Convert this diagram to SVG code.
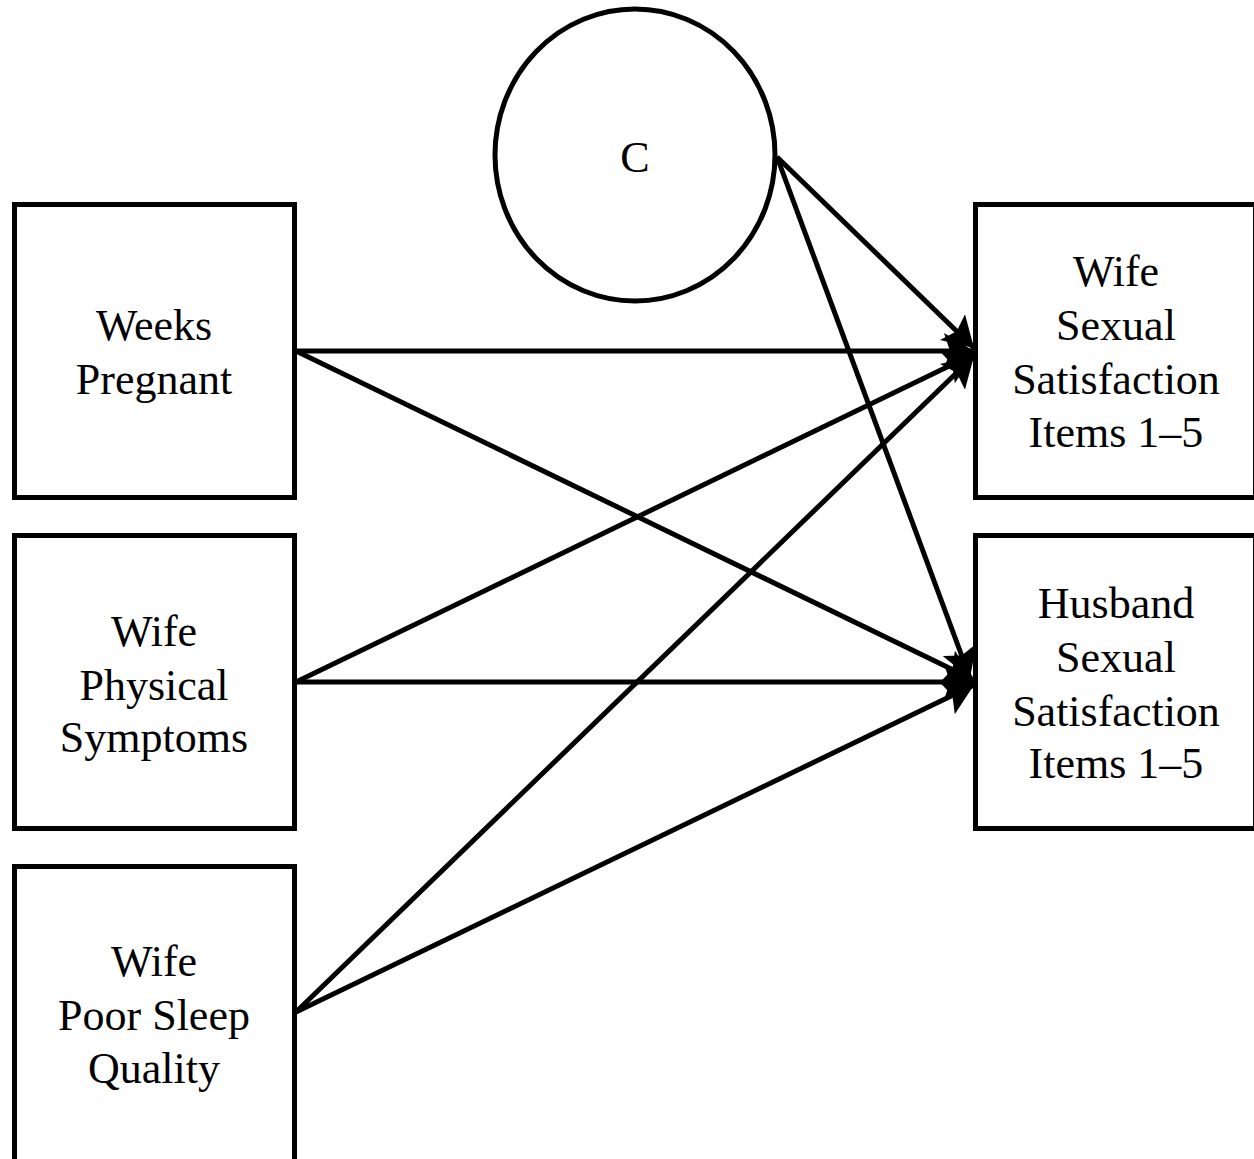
<svg xmlns="http://www.w3.org/2000/svg" width="1254" height="1159" viewBox="0 0 1254 1159">
<style>
.box{fill:#fff;stroke:#000;stroke-width:5}
.lbl{font-family:"Liberation Serif","Times New Roman",serif;font-size:44px;fill:#000;text-anchor:middle}
.edge{stroke:#000;stroke-width:5;fill:none;marker-end:url(#ah)}
</style>
<defs>
<marker id="ah" markerUnits="userSpaceOnUse" markerWidth="32" markerHeight="36" refX="30" refY="18" orient="auto" viewBox="0 0 32 36">
<path d="M0,0 L30,18 L0,36 L6,18 Z" fill="#000"/>
</marker>
</defs>
<rect width="1254" height="1159" fill="#fff"/>
<g id="connectors">
<line class="edge" x1="296" y1="351" x2="974" y2="351"/>
<line class="edge" x1="296" y1="351" x2="974" y2="680"/>
<line class="edge" x1="296" y1="682" x2="974" y2="354"/>
<line class="edge" x1="296" y1="682" x2="974" y2="682"/>
<line class="edge" x1="296" y1="1012" x2="974" y2="356"/>
<line class="edge" x1="296" y1="1012" x2="974" y2="685"/>
<line class="edge" x1="777" y1="157" x2="974" y2="348"/>
<line class="edge" x1="777" y1="157" x2="970" y2="678"/>
</g>
<g id="node-c">
<ellipse class="box" cx="635" cy="155" rx="140" ry="146"/>
<text class="lbl" x="635" y="172">C</text>
</g>
<g id="node-weeks">
<rect class="box" x="14.5" y="204.5" width="280" height="293"/>
<text class="lbl" x="154" y="340">Weeks</text>
<text class="lbl" x="154" y="394">Pregnant</text>
</g>
<g id="node-physical">
<rect class="box" x="14.5" y="535.5" width="280" height="293"/>
<text class="lbl" x="154" y="646">Wife</text>
<text class="lbl" x="154" y="700">Physical</text>
<text class="lbl" x="154" y="752">Symptoms</text>
</g>
<g id="node-sleep">
<rect class="box" x="14.5" y="866.5" width="280" height="300"/>
<text class="lbl" x="154" y="976">Wife</text>
<text class="lbl" x="154" y="1030">Poor Sleep</text>
<text class="lbl" x="154" y="1083">Quality</text>
</g>
<g id="node-wife-ss">
<rect class="box" x="975.5" y="204.5" width="280" height="293"/>
<text class="lbl" x="1116" y="286">Wife</text>
<text class="lbl" x="1116" y="340">Sexual</text>
<text class="lbl" x="1116" y="394">Satisfaction</text>
<text class="lbl" x="1116" y="447">Items 1–5</text>
</g>
<g id="node-husband-ss">
<rect class="box" x="975.5" y="535.5" width="280" height="293"/>
<text class="lbl" x="1116" y="618">Husband</text>
<text class="lbl" x="1116" y="672">Sexual</text>
<text class="lbl" x="1116" y="726">Satisfaction</text>
<text class="lbl" x="1116" y="778">Items 1–5</text>
</g>
</svg>
